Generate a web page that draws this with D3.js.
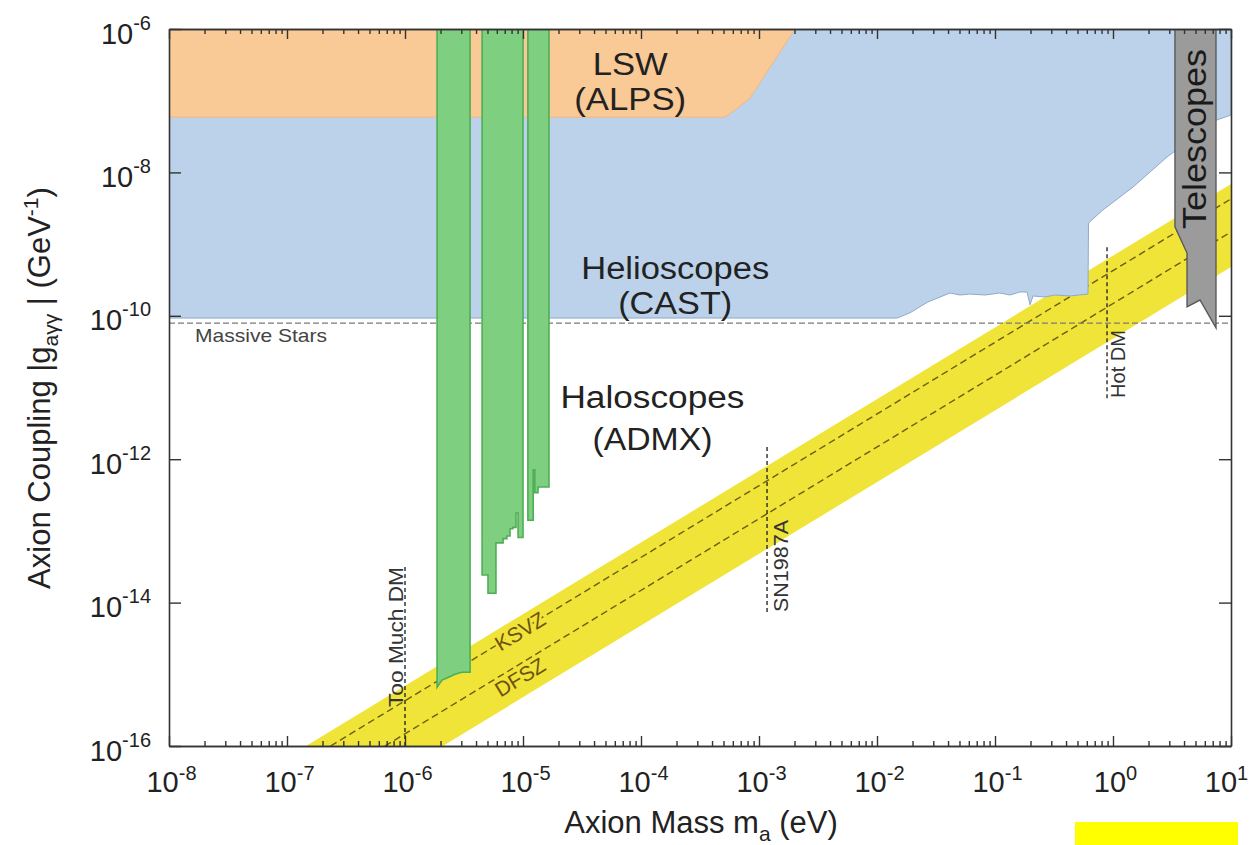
<!DOCTYPE html>
<html><head><meta charset="utf-8">
<script src="https://cdn.jsdelivr.net/npm/d3@7"></script>
<style>
body{margin:0;background:#fff}
svg{display:block;font-family:"Liberation Sans",Arial,Helvetica,sans-serif}
</style>
</head><body>
<svg id="chart" width="1250" height="845"></svg>
<script>
// ---------------- data ----------------
const massTicks = [1e-8, 1e-7, 1e-6, 1e-5, 1e-4, 1e-3, 1e-2, 1e-1, 1, 10];
const massExp = ["-8", "-7", "-6", "-5", "-4", "-3", "-2", "-1", "0", "1"];
const couplingTicks = [1e-6, 1e-8, 1e-10, 1e-12, 1e-14, 1e-16];
const couplingExp = ["-6", "-8", "-10", "-12", "-14", "-16"];

// LSW (ALPS) lower edge  [mass eV, coupling GeV^-1]
const lswEdge = [[1e-8, 5.9e-8], [5.15e-4, 5.9e-8], [6.6e-4, 7.9e-8], [8.4e-4, 1.09e-7], [2.02e-3, 1e-6]];

// Helioscopes (CAST) lower edge
const castEdge = [
  [1e-8, 9.3e-11], [1.48e-2, 9.3e-11], [1.9e-2, 1.1e-10], [2.7e-2, 1.56e-10],
  [4.16e-2, 2.08e-10], [5.05e-2, 1.95e-10], [6.13e-2, 2.01e-10], [8.22e-2, 1.95e-10],
  [0.110, 2.08e-10], [0.134, 1.95e-10], [0.163, 2.15e-10], [0.187, 2.15e-10],
  [0.198, 1.42e-10], [0.210, 1.89e-10], [0.265, 1.83e-10], [0.322, 1.95e-10],
  [0.432, 1.89e-10], [0.614, 2.01e-10], [0.62, 1.97e-9], [0.82, 2.99e-9],
  [1.48, 6.25e-9], [2.87, 1.64e-8], [7.6, 5.4e-8], [10, 6.3e-8]
];

// Haloscopes (ADMX) lower edges of the three exclusion bars
const admx1 = [[1.87e-6, 6.6e-16], [2.06e-6, 8.3e-16], [2.27e-6, 8.9e-16], [2.65e-6, 1.0e-15], [3.04e-6, 1.07e-15], [3.56e-6, 1.07e-15]];
const admx2 = [[4.5e-6, 2.43e-14], [5.05e-6, 2.43e-14], [5.05e-6, 1.35e-14], [5.9e-6, 1.35e-14], [5.9e-6, 6.8e-14],
  [6.78e-6, 6.8e-14], [6.78e-6, 7.8e-14], [7.3e-6, 7.8e-14], [7.3e-6, 8.5e-14], [7.76e-6, 8.5e-14],
  [7.76e-6, 1.07e-13], [8.2e-6, 1.07e-13], [8.2e-6, 1.12e-13], [8.73e-6, 1.12e-13], [8.73e-6, 1.78e-13],
  [9.08e-6, 1.78e-13], [9.08e-6, 8.1e-14], [1.0e-5, 8.1e-14]];
const admx3 = [[1.10e-5, 1.41e-13], [1.22e-5, 1.41e-13], [1.22e-5, 7.1e-13], [1.26e-5, 7.1e-13], [1.26e-5, 3.4e-13],
  [1.34e-5, 3.4e-13], [1.34e-5, 4.1e-13], [1.66e-5, 4.1e-13]];

// Telescopes region outline
const telescopes = [[3.35, 1e-6], [3.35, 1.74e-9], [4.24, 7.5e-10], [4.24, 1.33e-10], [5.46, 1.66e-10], [7.46, 6.8e-11], [7.46, 1e-6]];

// QCD axion band and model lines
const bandUpper = [[1.45e-7, 1e-16], [10, 6.9e-9]];
const bandLower = [[2.09e-6, 1e-16], [10, 4.8e-10]];
const ksvzLine = [[2.34e-7, 1e-16], [10, 4.27e-9]];
const dfszLine = [[6.76e-7, 1e-16], [10, 1.48e-9]];

// Massive stars bound
const massiveStars = 7.9e-11;

// Vertical reference lines
const refNames = ["Too Much DM", "SN1987A", "Hot DM"];
const refMass = [1e-6, 1.17e-3, 0.89];
const refLow = [1e-16, 7.4e-15, 7.1e-12];
const refHigh = [3.2e-14, 1.48e-12, 9.7e-10];

// ---------------- layout ----------------
const svg = d3.select("#chart");
const L = 169, R = 1231, T = 29, B = 746;
const x = d3.scaleLog().domain([1e-8, 10]).range([L, R]);
const y = d3.scaleLog().domain([1e-16, 1e-6]).range([B, T]);
const line = d3.line().x(d => x(d[0])).y(d => y(d[1]));

svg.append("defs").append("clipPath").attr("id", "plot")
  .append("rect").attr("x", L).attr("y", T).attr("width", R - L).attr("height", B - T);
const g = svg.append("g").attr("clip-path", "url(#plot)");

// yellow band
const bandPoly = bandUpper.concat(bandLower.slice().reverse());
g.append("path").attr("d", line(bandPoly) + "Z").attr("fill", "#efe437").attr("stroke", "none");
g.append("path").attr("d", line(ksvzLine)).attr("fill", "none").attr("stroke", "#6d5c12")
  .attr("stroke-width", 1.4).attr("stroke-dasharray", "7,4");
g.append("path").attr("d", line(dfszLine)).attr("fill", "none").attr("stroke", "#6d5c12")
  .attr("stroke-width", 1.4).attr("stroke-dasharray", "7,4");

// CAST
const castPoly = [[1e-8, 1e-6]].concat(castEdge, [[10, 1e-6]]);
g.append("path").attr("d", line(castPoly) + "Z").attr("fill", "#bbd2ea").attr("stroke", "#8fa9c9").attr("stroke-width", 1);

// LSW
const lswPoly = [[1e-8, 1e-6]].concat(lswEdge);
g.append("path").attr("d", line(lswPoly) + "Z").attr("fill", "#f9c996").attr("stroke", "#f0b884").attr("stroke-width", 1);

// massive stars
g.append("line").attr("x1", x(1e-8)).attr("x2", x(10)).attr("y1", y(massiveStars)).attr("y2", y(massiveStars))
  .attr("stroke", "#7a7a7a").attr("stroke-width", 1.4).attr("stroke-dasharray", "6,3");

// ADMX bars
[admx1, admx2, admx3].forEach(edge => {
  const poly = [[edge[0][0], 1e-6]].concat(edge, [[edge[edge.length - 1][0], 1e-6]]);
  g.append("path").attr("d", line(poly) + "Z").attr("fill", "#7fcf80").attr("stroke", "#4fae55").attr("stroke-width", 1.6);
});

// Telescopes
g.append("path").attr("d", line(telescopes) + "Z").attr("fill", "#9b9b9b").attr("stroke", "#5a5a5a").attr("stroke-width", 1.4);

// vertical reference lines
refMass.forEach((m, i) => {
  g.append("line").attr("x1", x(m)).attr("x2", x(m)).attr("y1", y(refLow[i])).attr("y2", y(refHigh[i]))
    .attr("stroke", "#2a2a2a").attr("stroke-width", 1.4).attr("stroke-dasharray", "4,3");
});

// ---------------- axes ----------------
const minorTicks = [];
for (let k = -8; k < 1; k++) for (let j = 2; j <= 9; j++) minorTicks.push(j * Math.pow(10, k));

function styleAxis(sel) {
  sel.selectAll("path.domain").attr("stroke", "#333").attr("stroke-width", 1.6);
  sel.selectAll(".tick line").attr("stroke", "#333").attr("stroke-width", 1.4);
  sel.selectAll(".tick text").remove();
}
svg.append("g").attr("transform", `translate(0,${B})`)
  .call(d3.axisBottom(x).tickValues(minorTicks).tickSize(-5).tickSizeOuter(0)).call(styleAxis);
const xAxis = svg.append("g").attr("transform", `translate(0,${B})`)
  .call(d3.axisBottom(x).tickValues(massTicks).tickSize(-10).tickSizeOuter(0)).call(styleAxis);
svg.append("g").attr("transform", `translate(0,${T})`)
  .call(d3.axisTop(x).tickValues(minorTicks).tickSize(-5).tickSizeOuter(0)).call(styleAxis);
svg.append("g").attr("transform", `translate(0,${T})`)
  .call(d3.axisTop(x).tickValues(massTicks).tickSize(-10).tickSizeOuter(0)).call(styleAxis);
const yAxis = svg.append("g").attr("transform", `translate(${L},0)`)
  .call(d3.axisLeft(y).tickValues(couplingTicks).tickSize(-12).tickSizeOuter(0)).call(styleAxis);
svg.append("g").attr("transform", `translate(${R},0)`)
  .call(d3.axisRight(y).tickValues(couplingTicks).tickSize(-12).tickSizeOuter(0)).call(styleAxis);

// tick labels
xAxis.selectAll(".tick").each(function (d, i) {
  const last = i === massTicks.length - 1;
  const t = d3.select(this).append("text").attr("x", last ? -5 : 2).attr("y", 46)
    .attr("text-anchor", "middle").attr("fill", "#222").attr("font-size", 29);
  t.append("tspan").text("10");
  t.append("tspan").attr("dy", -12).attr("font-size", 20).text(massExp[i]);
});
yAxis.selectAll(".tick").each(function (d, i) {
  const t = d3.select(this).append("text").attr("x", -18).attr("y", 14)
    .attr("text-anchor", "end").attr("fill", "#222").attr("font-size", 29);
  t.append("tspan").text("10");
  t.append("tspan").attr("dy", -14).attr("font-size", 20).text(couplingExp[i]);
});

// axis titles
const xt = svg.append("text").attr("x", 701).attr("y", 833).attr("text-anchor", "middle")
  .attr("font-size", 31).attr("fill", "#222");
xt.append("tspan").text("Axion Mass m");
xt.append("tspan").attr("dy", 8).attr("font-size", 21).text("a");
xt.append("tspan").attr("dy", -8).text(" (eV)");

const yt = svg.append("text").attr("transform", "translate(50,388) rotate(-90)")
  .attr("text-anchor", "middle").attr("font-size", 31).attr("fill", "#222");
yt.append("tspan").text("Axion Coupling |g");
yt.append("tspan").attr("dy", 8).attr("font-size", 21).text("aγγ");
yt.append("tspan").attr("dy", -8).text(" | (GeV");
yt.append("tspan").attr("dy", -12).attr("font-size", 21).text("-1");
yt.append("tspan").attr("dy", 12).text(")");

// ---------------- region labels ----------------
function bigLabel(txt, px, py, len) {
  svg.append("text").attr("x", px).attr("y", py).attr("text-anchor", "middle")
    .attr("font-size", 31).attr("fill", "#222")
    .attr("textLength", len).attr("lengthAdjust", "spacingAndGlyphs").text(txt);
}
bigLabel("LSW", x(8.1e-5), 75, 75);
bigLabel("(ALPS)", x(8.1e-5), 110, 112);
bigLabel("Helioscopes", x(1.95e-4), 279, 188);
bigLabel("(CAST)", x(1.95e-4), 314, 114);
bigLabel("Haloscopes", x(1.25e-4), 408, 184);
bigLabel("(ADMX)", x(1.25e-4), 450, 120);

// Telescopes (vertical)
svg.append("text").attr("transform", `translate(${x(5.3) + 8},${139}) rotate(-90)`)
  .attr("text-anchor", "middle").attr("font-size", 33).attr("fill", "#1a1a1a")
  .attr("textLength", 180).attr("lengthAdjust", "spacingAndGlyphs").text("Telescopes");

// Massive stars
svg.append("text").attr("x", L + 26).attr("y", y(massiveStars) + 19)
  .attr("font-size", 19).attr("fill", "#444").attr("textLength", 132).attr("lengthAdjust", "spacingAndGlyphs")
  .text("Massive Stars");

// vertical line labels
const refLabelPos = [[-2, 637, 140], [21, 566, 92], [18, 364, 68]];
refMass.forEach((m, i) => {
  const p = refLabelPos[i];
  svg.append("text").attr("transform", `translate(${x(m) + p[0]},${p[1]}) rotate(-90)`)
    .attr("text-anchor", "middle").attr("font-size", 20).attr("fill", "#333")
    .attr("textLength", p[2]).attr("lengthAdjust", "spacingAndGlyphs").text(refNames[i]);
});

// KSVZ / DFSZ labels along the band
const ang = -Math.atan((y(1e-15) - y(1e-14)) / (x(1e-5) - x(1e-6))) * 180 / Math.PI;
function bandLabel(txt, m, gv, off) {
  svg.append("text").attr("transform", `translate(${x(m) - 3},${y(gv) + off}) rotate(${ang})`)
    .attr("text-anchor", "middle").attr("dominant-baseline", "central")
    .attr("font-size", 21).attr("fill", "#6e5210")
    .attr("stroke", "#efe437").attr("stroke-width", 5).attr("paint-order", "stroke")
    .text(txt);
}
bandLabel("KSVZ", 1e-5, 1e-5 * Math.pow(10, -9.37), 2);
bandLabel("DFSZ", 1e-5, 1e-5 * Math.pow(10, -9.83), 15);

// yellow marker at bottom right
svg.append("rect").attr("x", 1075).attr("y", 822).attr("width", 163).attr("height", 23).attr("fill", "#ffff00");
</script>
</body></html>
